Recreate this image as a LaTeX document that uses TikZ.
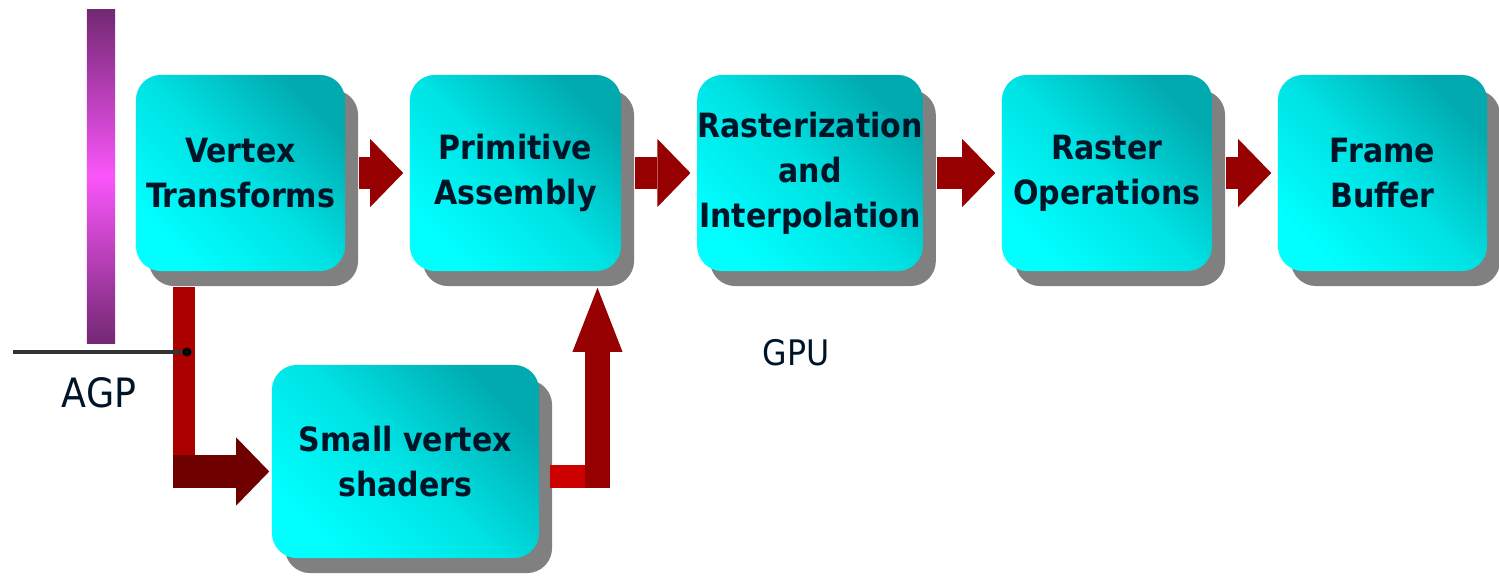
\documentclass[tikz,border=0pt]{standalone}
\usepackage{fontspec}
\setmainfont{DejaVuSansCondensed.ttf}[BoldFont=DejaVuSansCondensed-Bold.ttf]
\usetikzlibrary{arrows.meta,shadows}

\definecolor{boxlight}{RGB}{0,255,255}
\definecolor{boxdark}{RGB}{0,170,175}
\definecolor{boxtext}{RGB}{0,20,40}
\definecolor{pipered}{RGB}{150,0,0}
\definecolor{pipedark}{RGB}{110,0,0}
\definecolor{pipemid}{RGB}{170,0,0}
\definecolor{pipebright}{RGB}{205,0,0}
\definecolor{agpdark}{RGB}{115,40,115}
\definecolor{agplight}{RGB}{250,85,250}

\begin{document}
\begin{tikzpicture}[x=0.01cm, y=-0.01cm]

\tikzset{stage/.style={rounded corners=0.25cm, top color=boxlight, bottom color=boxdark,
    middle color=boxlight!65!boxdark, shading angle=135,
    drop shadow={shadow xshift=0.13cm, shadow yshift=-0.15cm, fill=gray, opacity=1},
    minimum height=1.96cm, inner sep=0pt, align=center, text=boxtext,
    font=\fontsize{9.5}{12.8}\selectfont\bfseries}}
\tikzset{pipe/.style={line width=0.32cm, draw=pipered,
    -{Triangle[length=0.33cm, width=0.68cm, line width=0pt]}, shorten <=0.13cm, shorten >=0.06cm}}
\tikzset{label/.style={text=boxtext, inner sep=0pt}}

\useasboundingbox (0,0) rectangle (1499,576);

% AGP bus
\node[top color=agpdark, bottom color=agpdark, middle color=agplight, minimum width=0.28cm,
    minimum height=3.33cm, inner sep=0pt] (bus) at (101,176.5) {};
\node[label, font=\fontsize{11.5}{12}\selectfont] (agp) at (99,393) {AGP};
\node[label, font=\fontsize{10}{12}\selectfont] (gpu) at (796,353) {GPU};

% pipeline stages
\node[stage, minimum width=2.09cm] (vt) at (240.5,173) {Vertex\\Transforms};
\node[stage, minimum width=2.11cm] (pa) at (515.5,173) {Primitive\\Assembly};
\node[stage, minimum width=2.24cm] (ri) at (810,173) {Rasterization\\and\\Interpolation};
\node[stage, minimum width=2.10cm] (ro) at (1107,173) {Raster\\Operations};
\node[stage, minimum width=2.09cm] (fb) at (1382.5,173) {Frame\\Buffer};
\node[stage, minimum width=2.67cm, minimum height=1.93cm] (svs) at (405.5,461.5) {Small vertex\\shaders};

\draw[pipe] (vt.east) -- (pa.west);
\draw[pipe] (pa.east) -- (ri.west);
\draw[pipe] (ri.east) -- (ro.west);
\draw[pipe] (ro.east) -- (fb.west);

% detour through the vertex shaders
\coordinate (ldown) at (184,488);
\coordinate (lturn) at (173,471.5);
\draw[line width=0.22cm, draw=pipemid, shorten <=0.15cm] (vt.south -| ldown) -- (ldown);
\draw[pipe, draw=pipedark, line width=0.33cm, shorten <=0pt, shorten >=0.02cm] (lturn) -- (lturn -| svs.west);

\coordinate (rturn) at (610,476.5);
\coordinate (rup) at (597.5,488);
\draw[line width=0.23cm, draw=pipebright, shorten <=0.1cm] (svs.east |- rturn) -- (rturn);
\draw[line width=0.25cm, draw=pipered, -{Triangle[length=0.64cm, width=0.5cm, line width=0pt]},
    shorten >=0.16cm] (rup) -- (rup |- pa.south);

% AGP line
\coordinate (agpleft) at (13,352);
\coordinate (agpright) at (192,352);
\coordinate (agpdot) at (187,352);
\draw[line width=0.9pt, draw=black!80] (agpleft) -- (agpright);
\fill[black] (agpdot) circle (0.045cm);

\end{tikzpicture}
\end{document}
